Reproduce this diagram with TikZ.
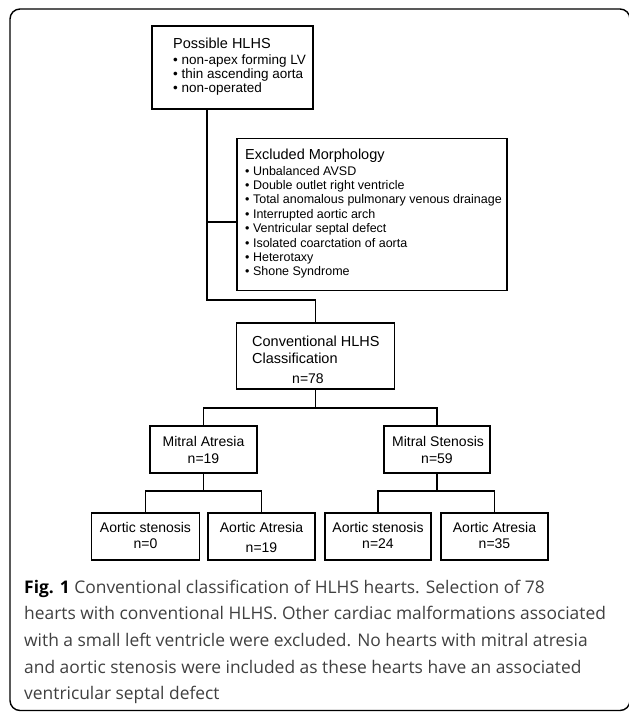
\documentclass[tikz,border=0pt]{standalone}
\usepackage{fontspec}
\setmainfont{Liberation Sans}
\newfontfamily\capfont{Open Sans}
\begin{document}
\begin{tikzpicture}[x=1pt,y=-1pt,
  boxst/.style={draw, line width=1.5pt, inner sep=0pt},
  ln/.style={line width=1.5pt},
  ttl/.style={anchor=base west, inner sep=0pt, font=\fontsize{14.5}{16}\selectfont},
  bul/.style={anchor=base west, inner sep=0pt, font=\fontsize{12.5}{14}\selectfont},
  pbul/.style={anchor=base west, inner sep=0pt, font=\fontsize{13.5}{15}\selectfont},
  lbl/.style={anchor=base, inner sep=0pt, font=\fontsize{14}{16}\selectfont},
  capl/.style={anchor=base west, inner sep=0pt, font=\capfont\fontsize{17.4}{20}\selectfont, text=black!75}]
\useasboundingbox (0,0) rectangle (629,712);
\draw[line width=1.4pt, rounded corners=10pt] (10,9) rectangle (630,710.5);

% boxes
\node[boxst, minimum width=161pt, minimum height=83pt] (poss) at (232.5,67.5) {};
\node[boxst, minimum width=270pt, minimum height=152pt] (excl) at (372,214.5) {};
\node[boxst, minimum width=158pt, minimum height=66pt] (conv) at (315.5,356) {};
\node[boxst, minimum width=107pt, minimum height=47pt] (ma) at (203.5,449.5) {};
\node[boxst, minimum width=106pt, minimum height=47pt] (ms) at (437,449.5) {};
\node[boxst, minimum width=108pt, minimum height=47pt] (b1) at (145.5,536.5) {};
\node[boxst, minimum width=107pt, minimum height=47pt] (b2) at (261.5,536.5) {};
\node[boxst, minimum width=106pt, minimum height=47pt] (b3) at (378,536.5) {};
\node[boxst, minimum width=107pt, minimum height=47pt] (b4) at (494.5,536.5) {};

% texts
\node[ttl] (possT) at (173,48) {Possible HLHS};
\node[pbul] (possA) at (173,64) {\textbullet\ non-apex forming LV};
\node[pbul] (possB) at (173,78) {\textbullet\ thin ascending aorta};
\node[pbul] (possC) at (173,92) {\textbullet\ non-operated};

\node[ttl] (exT) at (245,159) {Excluded Morphology};
\node[bul] (ex1) at (245,175) {\textbullet\ Unbalanced AVSD};
\node[bul] (ex2) at (245,189.4) {\textbullet\ Double outlet right ventricle};
\node[bul] (ex3) at (245,203.8) {\textbullet\ Total anomalous pulmonary venous drainage};
\node[bul] (ex4) at (245,218.2) {\textbullet\ Interrupted aortic arch};
\node[bul] (ex5) at (245,232.6) {\textbullet\ Ventricular septal defect};
\node[bul] (ex6) at (245,247) {\textbullet\ Isolated coarctation of aorta};
\node[bul] (ex7) at (245,261.4) {\textbullet\ Heterotaxy};
\node[bul] (ex8) at (245,275.8) {\textbullet\ Shone Syndrome};

\node[ttl] (cvA) at (252,346.5) {Conventional HLHS};
\node[ttl] (cvB) at (252,363) {Classification};
\node[lbl] (cvC) at (308,383) {n=78};

\node[lbl] (maA) at (203.5,446) {Mitral Atresia};
\node[lbl] (maB) at (203.5,463) {n=19};
\node[lbl] (msA) at (438,446) {Mitral Stenosis};
\node[lbl] (msB) at (437,463) {n=59};

\node[lbl] (b1A) at (145.5,532) {Aortic stenosis};
\node[lbl] (b1B) at (145.5,548.5) {n=0};
\node[lbl] (b2A) at (261.5,532) {Aortic Atresia};
\node[lbl] (b2B) at (261.5,552) {n=19};
\node[lbl] (b3A) at (378,532) {Aortic stenosis};
\node[lbl] (b3B) at (378,548.5) {n=24};
\node[lbl] (b4A) at (494.5,532) {Aortic Atresia};
\node[lbl] (b4B) at (494.5,548.5) {n=35};

% connectors
\coordinate (j0) at (207,222);
\coordinate (j1) at (207,300);
\coordinate (j2) at (315.5,408);
\coordinate (j3) at (203.5,491);
\coordinate (j4) at (437,491);
\draw[ln] (poss.south -| j1) -- (j1) -| (conv.north);
\draw[ln] (j0) -- (j0 -| excl.west);
\draw[ln] (conv.south) -- (j2);
\draw[ln] (ma.north) |- (j2) -| (ms.north);
\draw[ln] (ma.south) -- (j3);
\draw[ln] (b1.north) |- (j3) -| (b2.north);
\draw[ln] (ms.south) -- (j4);
\draw[ln] (b3.north) |- (j4) -| (b4.north);

% caption
\node[capl] (cap1) at (24,593) {{\bfseries\color{black}Fig. 1} Conventional classification of HLHS hearts. Selection of 78};
\node[capl] (cap2) at (24,619.7) {hearts with conventional HLHS. Other cardiac malformations associated};
\node[capl] (cap3) at (24,646.4) {with a small left ventricle were excluded. No hearts with mitral atresia};
\node[capl] (cap4) at (24,673.1) {and aortic stenosis were included as these hearts have an associated};
\node[capl] (cap5) at (24,699.8) {ventricular septal defect};
\end{tikzpicture}
\end{document}
